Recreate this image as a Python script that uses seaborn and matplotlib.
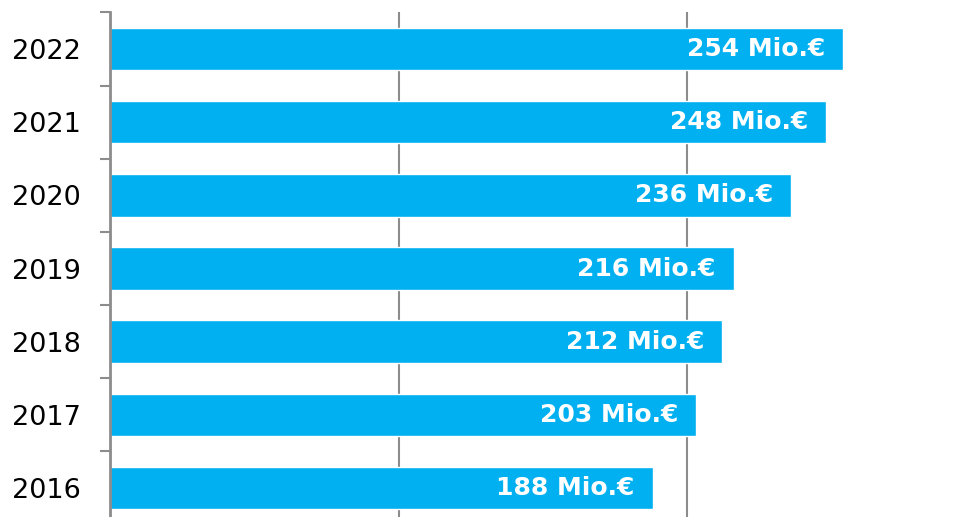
import matplotlib
matplotlib.use('Agg')
import matplotlib.pyplot as plt
import pandas as pd
import seaborn as sns

# Data
years = ['2022', '2021', '2020', '2019', '2018', '2017', '2016']
values = [254, 248, 236, 216, 212, 203, 188]
labels = ['254 Mio.€', '248 Mio.€', '236 Mio.€', '216 Mio.€', '212 Mio.€', '203 Mio.€', '188 Mio.€']

df = pd.DataFrame({'year': years, 'value': values, 'label': labels})

sns.set_style('white')
plt.rcParams['font.family'] = ['DejaVu Sans']

fig = plt.figure(figsize=(9.61, 5.17), dpi=100)
ax = fig.add_axes([110 / 961, -7.6 / 517, 851 / 961, 512.2 / 517])

sns.barplot(data=df, x='value', y='year', order=years, orient='h',
            color='#00B0F0', saturation=1, width=0.58, ax=ax)

# bar value labels inside the bar end
for bar, lab in zip(ax.patches, df['label']):
    ax.annotate(lab, (bar.get_width(), bar.get_y() + bar.get_height() / 2),
                xytext=(-18, 0), textcoords='offset pixels',
                ha='right', va='center', color='white',
                fontsize=18, fontweight='bold')

ax.set_xlim(0, 294.8)
ax.set_ylim(6.5, -0.5)
ax.set_xlabel('')
ax.set_ylabel('')

# vertical gridlines
ax.set_xticks([0, 100, 200])
ax.xaxis.grid(True, color='#8c8c8c', linewidth=1.5)
ax.set_axisbelow(True)
ax.tick_params(axis='x', bottom=False, labelbottom=False)

# spines
for s in ['top', 'right', 'bottom']:
    ax.spines[s].set_visible(False)
ax.spines['left'].set_color('#8c8c8c')
ax.spines['left'].set_linewidth(2)

# category labels without ticks, small ticks between categories
ax.tick_params(axis='y', which='major', length=0, pad=21, labelsize=19.5, labelcolor='black')
ax.set_yticks([i + 0.5 for i in range(-1, 7)], minor=True)
ax.tick_params(axis='y', which='minor', length=7.5, width=1.5, color='#8c8c8c', left=True)

plt.savefig('out.png', dpi=100)
